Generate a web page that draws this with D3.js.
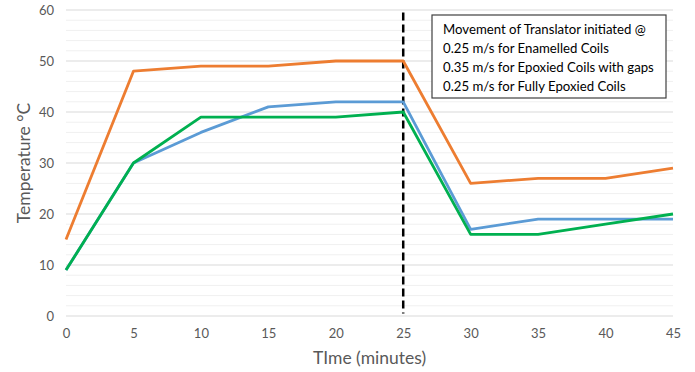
<!DOCTYPE html>
<html>
<head>
    <script src="https://d3js.org/d3.v7.min.js"></script>
    <style>
        body { margin: 0; background: #fff; }
        text { font-family: Lato, "Open Sans", sans-serif; }
    </style>
</head>
<body>
    <div id="chart"></div>
    <script>
        // data
        const times = [0, 5, 10, 15, 20, 25, 30, 35, 40, 45];
        const enamelled = [15, 48, 49, 49, 50, 50, 26, 27, 27, 29];
        const epoxiedGaps = [9, 30, 36, 41, 42, 42, 17, 19, 19, 19];
        const fullyEpoxied = [9, 30, 39, 39, 39, 40, 16, 16, 18, 20];
        const xTicks = [0, 5, 10, 15, 20, 25, 30, 35, 40, 45];
        const yTicks = [0, 10, 20, 30, 40, 50, 60];
        const markerTime = 25;
        const noteLines = [
            "Movement of Translator initiated @",
            "0.25 m/s for Enamelled Coils",
            "0.35 m/s for Epoxied Coils with gaps",
            "0.25 m/s for Fully Epoxied Coils"
        ];

        const W = 695, H = 372;
        const margin = { top: 10, right: 22, bottom: 56, left: 66 };
        const width = W - margin.left - margin.right,
            height = H - margin.top - margin.bottom;

        const svg = d3.select("#chart").append("svg")
            .attr("width", W).attr("height", H);
        const g = svg.append("g")
            .attr("transform", `translate(${margin.left},${margin.top})`);

        const x = d3.scaleLinear().domain([0, 45]).range([0, width]);
        const y = d3.scaleLinear().domain([0, 60]).range([height, 0]);

        // minor gridlines every 2
        g.append("g").selectAll("line")
            .data(d3.range(2, 60, 2).filter(v => v % 10 !== 0))
            .join("line")
            .attr("x1", 0).attr("x2", width)
            .attr("y1", d => y(d)).attr("y2", d => y(d))
            .attr("stroke", "#f0f0f0").attr("stroke-width", 1);

        // major gridlines
        g.append("g").selectAll("line")
            .data(yTicks)
            .join("line")
            .attr("x1", 0).attr("x2", width)
            .attr("y1", d => y(d)).attr("y2", d => y(d))
            .attr("stroke", "#d9d9d9").attr("stroke-width", 1);

        // y tick labels
        const yAxis = g.append("g")
            .call(d3.axisLeft(y).tickValues(yTicks).tickSize(0).tickPadding(12));
        yAxis.select(".domain").remove();
        yAxis.selectAll("text").attr("fill", "#595959").style("font-size", "13px");

        // x tick labels
        const xAxis = g.append("g")
            .attr("transform", `translate(0,${height})`)
            .call(d3.axisBottom(x).tickValues(xTicks).tickSize(0).tickPadding(13));
        xAxis.select(".domain").remove();
        xAxis.selectAll("text").attr("fill", "#595959").style("font-size", "13px");

        // axis titles
        svg.append("text")
            .attr("x", margin.left + width / 2)
            .attr("y", H - 8)
            .attr("text-anchor", "middle")
            .attr("fill", "#595959")
            .style("font-size", "17.5px")
            .text("TIme (minutes)");

        svg.append("text")
            .attr("transform", `translate(30,${margin.top + height / 2}) rotate(-90)`)
            .attr("text-anchor", "middle")
            .attr("fill", "#595959")
            .style("font-size", "17.5px")
            .text("Temperature °C");

        // dashed marker line
        g.append("line")
            .attr("x1", x(markerTime)).attr("x2", x(markerTime))
            .attr("y1", y(59.5)).attr("y2", y(0.5))
            .attr("stroke", "#000").attr("stroke-width", 2.5)
            .attr("stroke-dasharray", "8,4");

        const line = d3.line()
            .x((d, i) => x(times[i]))
            .y(d => y(d));

        const series = [
            { values: enamelled, color: "#ED7D31" },
            { values: epoxiedGaps, color: "#5B9BD5" },
            { values: fullyEpoxied, color: "#00B050" }
        ];

        g.selectAll(".series")
            .data(series)
            .join("path")
            .attr("class", "series")
            .attr("fill", "none")
            .attr("stroke", d => d.color)
            .attr("stroke-width", 2.8)
            .attr("stroke-linejoin", "round")
            .attr("d", d => line(d.values));

        // annotation box
        const box = svg.append("g").attr("transform", "translate(432,15)");
        box.append("rect")
            .attr("width", 234).attr("height", 83)
            .attr("fill", "#fff")
            .attr("stroke", "#404040").attr("stroke-width", 1.2);
        box.selectAll("text")
            .data(noteLines)
            .join("text")
            .attr("x", 11)
            .attr("y", (d, i) => 19 + i * 19)
            .attr("fill", "#000")
            .style("font-size", "13.2px")
            .text(d => d);
    </script>
</body>
</html>
